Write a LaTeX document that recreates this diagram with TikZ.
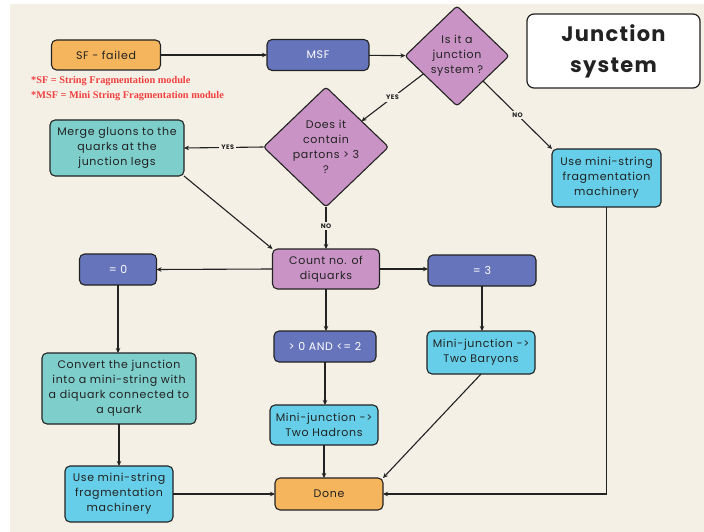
\documentclass[tikz,border=0pt]{standalone}
\usepackage{fontspec}
\setmainfont{Poppins}[LetterSpace=6]
\newfontfamily\notefont{Liberation Serif}
\usepackage{tikz}
\usetikzlibrary{
	shapes.geometric,
	arrows.meta,
	}
\definecolor{paper}{HTML}{F4F0E6}
\definecolor{ink}{HTML}{222222}
\definecolor{peach}{HTML}{F5B55C}
\definecolor{slate}{HTML}{6674BB}
\definecolor{mauve}{HTML}{C994C5}
\definecolor{teal}{HTML}{7ECECB}
\definecolor{sky}{HTML}{66CEE8}
\definecolor{notered}{HTML}{F2403F}

\begin{document}
\begin{tikzpicture}[x=1pt,y=-1pt,
	box/.style={draw=ink,line width=1.1pt,rounded corners=5pt,inner sep=0pt,outer sep=0pt,align=center,text=ink,font=\fontsize{11}{15}\selectfont},
	decision/.style={box,shape=diamond,fill=mauve,rounded corners=3pt},
	link/.style={line width=1.1pt,draw=ink,-{Stealth[length=5pt,width=4.5pt]}},
	tag/.style={fill=paper,inner sep=2pt,text=ink,font=\fontsize{6.5}{6.5}\selectfont\bfseries},
	note/.style={anchor=west,inner sep=0pt,text=notered,font=\notefont\bfseries\fontsize{10.3}{10.3}\selectfont}]
% sheet
\fill[white] (0,0) rectangle (704,532);
\fill[paper] (10,4) rectangle (704,532);
% boxes
\node[box,fill=peach,minimum width=109,minimum height=30] (sf) at (106,55) {SF - failed};
\node[box,fill=slate,text=white,minimum width=102,minimum height=31] (msf) at (318,55) {MSF};
\node[decision,minimum width=104,minimum height=100] (q1) at (457,56) {Is it a\\junction\\system ?};
\node[box,fill=white,line width=1.2pt,rounded corners=7pt,minimum width=173,minimum height=74,font=\fontsize{21}{31}\selectfont\bfseries] (title) at (613.5,51) {\raisebox{-2pt}{Junction}\\\raisebox{-2pt}{system}};
\node[note] (n1) at (31,81) {*SF = String Fragmentation module};
\node[note] (n2) at (31,96) {*MSF = Mini String Fragmentation module};
\node[decision,minimum width=125,minimum height=118] (q2) at (326,147) {Does it\\contain\\partons > 3\\?};
\node[box,fill=teal,minimum width=134,minimum height=56] (merge) at (117,148) {Merge gluons to the\\quarks at the\\junction legs};
\node[box,fill=sky,minimum width=109,minimum height=58] (ms1) at (606.5,178) {Use mini-string\\fragmentation\\machinery};
\node[box,fill=mauve,minimum width=107,minimum height=40] (count) at (326,269) {Count no. of\\diquarks};
\node[box,fill=slate,text=white,minimum width=77,minimum height=31] (zero) at (118,269.5) {= 0};
\node[box,fill=slate,text=white,minimum width=108,minimum height=31] (three) at (482,270.5) {= 3};
\node[box,fill=slate,text=white,minimum width=102,minimum height=31] (mid) at (325,346.5) {> 0 AND <= 2};
\node[box,fill=sky,minimum width=108,minimum height=43] (baryons) at (481,352.5) {Mini-junction ->\\Two Baryons};
\node[box,fill=teal,minimum width=154,minimum height=71] (convert) at (119,388.5) {Convert the junction\\into a mini-string with\\a diquark connected to\\a quark};
\node[box,fill=sky,minimum width=108,minimum height=40] (hadrons) at (324,425) {Mini-junction ->\\Two Hadrons};
\node[box,fill=sky,minimum width=108,minimum height=56] (ms2) at (119,494) {Use mini-string\\fragmentation\\machinery};
\node[box,fill=peach,minimum width=108,minimum height=32] (done) at (329,494) {Done};
% connectors
\draw[link] (sf) -- (msf);
\draw[link] (msf) -- (q1);
\draw[link] (q1.208) --node[tag,midway] {YES} (q2.36);
\draw[link] (q1.south east) --node[tag,midway] {NO} (ms1.north west);
\draw[link] (q2.west) --node[tag,pos=0.45] {YES} (merge.east);
\draw[link] (q2.south) --node[tag,pos=0.45] {NO} (count.north);
\draw[link] (merge.south east) -- (count.north west);
\draw[link] (count.west) -- (zero.east);
\draw[link] (count.east) -- (count.east -| three.west);
\draw[link] (count.south) -- (count.south |- mid.north);
\draw[link] (zero.south) -- (zero.south |- convert.north);
\draw[link] (convert.south) -- (convert.south |- ms2.north);
\draw[link] (ms2.east) -- (done.west);
\draw[link] (mid.south) -- (mid.south |- hadrons.north);
\draw[link] (hadrons.south) -- (hadrons.south |- done.north);
\draw[link] (three.south) -- (three.south |- baryons.north);
\draw[link] (baryons.south) -- (done.north east);
\draw[link] (ms1.south) |- (done.east);
\end{tikzpicture}
\end{document}
